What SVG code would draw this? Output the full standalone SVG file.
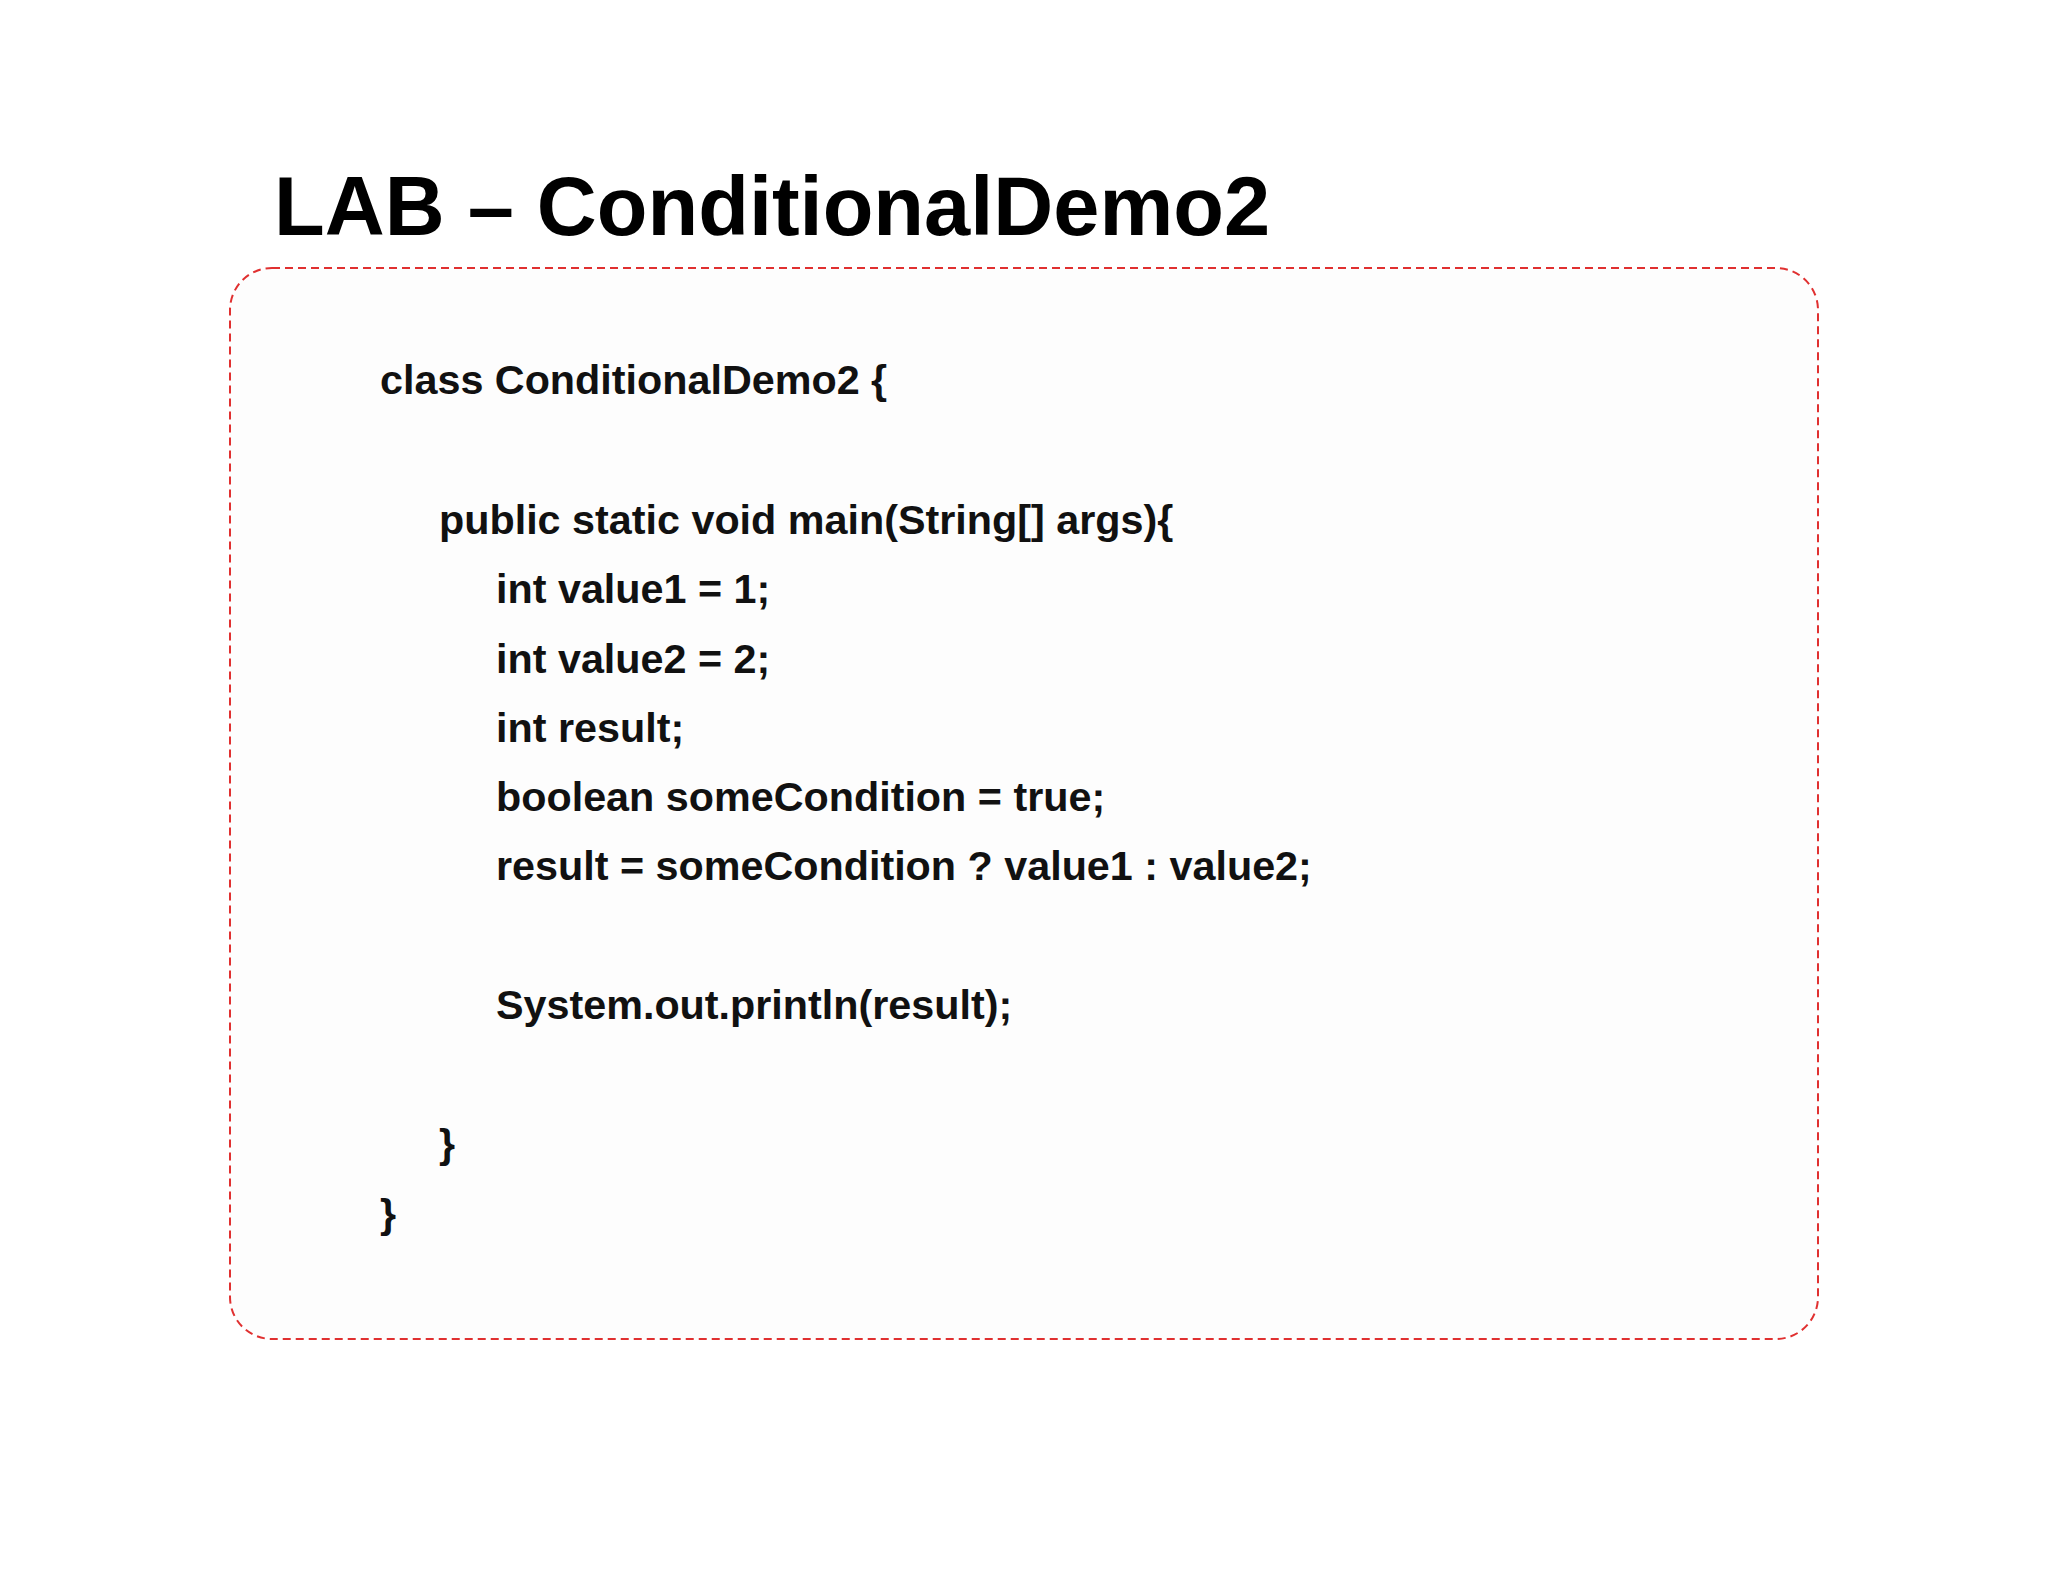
<svg xmlns="http://www.w3.org/2000/svg" width="2048" height="1582" viewBox="0 0 2048 1582">
<style>
.code{font-family:"Liberation Sans",Arial,sans-serif;font-weight:bold;font-size:41.3px;fill:#111}
</style>
<rect width="2048" height="1582" fill="#ffffff"/>
<g id="title"><text x="274" y="235" font-family="Liberation Sans,Arial,sans-serif" font-weight="bold" font-size="83" fill="#000">LAB – ConditionalDemo2</text></g>
<g id="codebox">
<rect x="230" y="268" width="1588" height="1071" rx="42" fill="#fdfdfd" stroke="#e03030" stroke-width="2" stroke-dasharray="8,5"/>
<text class="code" x="380" y="394">class ConditionalDemo2 {</text>
<text class="code" x="439" y="534">public static void main(String[] args){</text>
<text class="code" x="496" y="603">int value1 = 1;</text>
<text class="code" x="496" y="673">int value2 = 2;</text>
<text class="code" x="496" y="742">int result;</text>
<text class="code" x="496" y="811">boolean someCondition = true;</text>
<text class="code" x="496" y="880">result = someCondition ? value1 : value2;</text>
<text class="code" x="496" y="1019">System.out.println(result);</text>
<text class="code" x="439" y="1158">}</text>
<text class="code" x="380" y="1228">}</text>
</g>
</svg>
